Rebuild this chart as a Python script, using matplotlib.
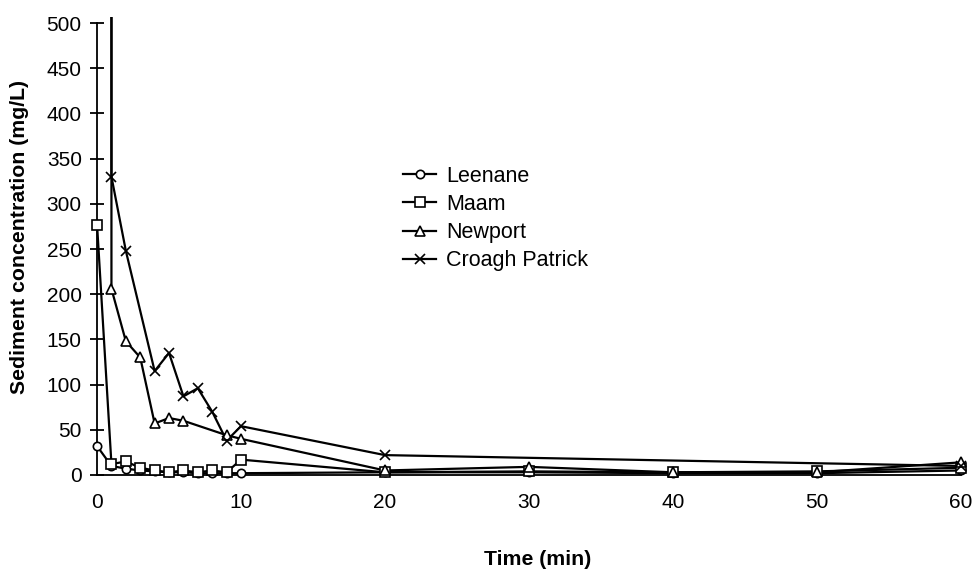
import matplotlib
matplotlib.use("Agg")
import matplotlib.pyplot as plt
import numpy as np

plt.rcParams['font.family'] = ['Liberation Sans', 'DejaVu Sans']

# ---- data ----
leenane_t = [0, 1, 2, 3, 4, 5, 6, 7, 8, 9, 10, 20, 30, 40, 50, 60]
leenane_v = [32, 10, 7, 5, 4, 3, 3, 2, 2, 2, 2, 3, 3, 2, 2, 5]

maam_t = [0, 1, 2, 3, 4, 5, 6, 7, 8, 9, 10, 20, 30, 40, 50, 60]
maam_v = [277, 12, 15, 8, 5, 3, 5, 3, 5, 3, 17, 3, 4, 3, 4, 8]

newport_t = [1, 1, 2, 3, 4, 5, 6, 9, 10, 20, 30, 40, 50, 60]
newport_v = [1200, 206, 148, 130, 57, 63, 60, 44, 40, 5, 9, 3, 3, 14]

croagh_t = [1, 1, 2, 4, 5, 6, 7, 8, 9, 10, 20, 60]
croagh_v = [1200, 330, 248, 115, 135, 87, 96, 70, 38, 54, 22, 10]

series = [
    ("Leenane", leenane_t, leenane_v, 'o', 6.0),
    ("Maam", maam_t, maam_v, 's', 6.5),
    ("Newport", newport_t, newport_v, '^', 7.0),
    ("Croagh Patrick", croagh_t, croagh_v, 'x', 6.5),
]

y_ticks = [0, 50, 100, 150, 200, 250, 300, 350, 400, 450, 500]
x_ticks = [0, 10, 20, 30, 40, 50, 60]

fig = plt.figure(figsize=(9.72, 5.76), dpi=100)
ax = fig.add_axes([0.088, 0.1628, 0.9079, 0.8082])

handles = []
for name, t, v, m, ms in series:
    t = np.asarray(t, float)
    v = np.asarray(v, float)
    ax.plot(t, v, color='black', lw=1.6, zorder=2)
    keep = v <= 500
    mfc = 'none' if m == 'x' else 'white'
    ax.plot(t[keep], v[keep], linestyle='none', marker=m, ms=ms,
            mfc=mfc, mec='black', mew=1.2, zorder=3, clip_on=False)
    h, = ax.plot([], [], color='black', lw=1.6, marker=m, ms=ms,
                 mfc=mfc, mec='black', mew=1.2)
    handles.append((h, name))

ax.set_xlim(-0.8, 60.5)
ax.set_ylim(-8, 507)
ax.spines['left'].set_position(('data', 0))
ax.spines['bottom'].set_position(('data', 0))
ax.spines['left'].set_bounds(0, 500)
ax.spines['bottom'].set_bounds(0, 60)
ax.spines['top'].set_visible(False)
ax.spines['right'].set_visible(False)
for s in ('left', 'bottom'):
    ax.spines[s].set_linewidth(1.3)

ax.set_yticks(y_ticks)
ax.set_xticks(x_ticks)
ax.tick_params(axis='y', direction='inout', length=10, width=1.3, labelsize=15, pad=6)
ax.tick_params(axis='x', length=0, labelsize=15, pad=13)

fig.text(0.553, 0.012, "Time (min)", ha='center', va='bottom',
         fontsize=15.3, fontweight='bold')
fig.text(0.02, 0.588, "Sediment concentration (mg/L)", rotation=90,
         ha='center', va='center', fontsize=15.3, fontweight='bold')

leg = fig.legend([h for h, _ in handles], [n for _, n in handles],
                 loc='upper left', bbox_to_anchor=(0.415, 0.712),
                 frameon=False, fontsize=15.5, handlelength=1.5,
                 handletextpad=0.5, labelspacing=0.33, borderpad=0,
                 borderaxespad=0)

fig.savefig("out.png", dpi=100)
